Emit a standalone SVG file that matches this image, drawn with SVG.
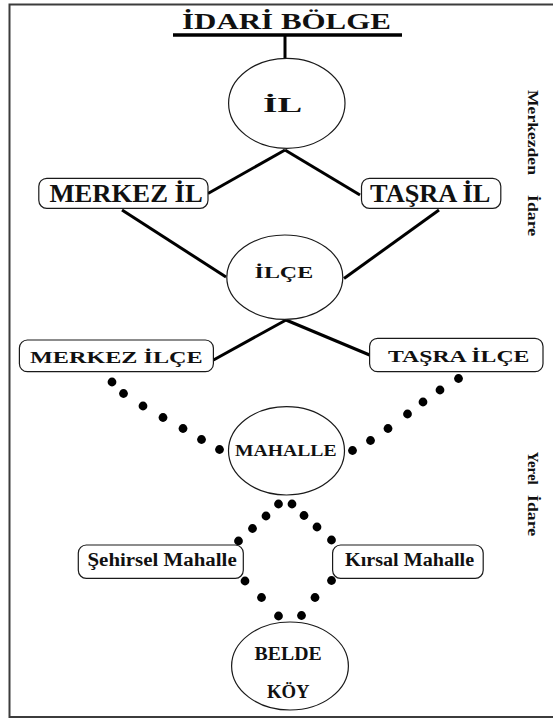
<svg xmlns="http://www.w3.org/2000/svg" width="553" height="719" viewBox="0 0 553 719">
<style>
.frame{fill:none;stroke:#3c3c3c;stroke-width:2}
.node{fill:#fff;stroke:#1a1a1a;stroke-width:1.2}
.t{font-family:"Liberation Serif","Times New Roman",serif;font-weight:bold;fill:#111}
.side{font-family:"Liberation Serif","Times New Roman",serif;font-weight:bold;fill:#111;font-size:15.5px}
.line{stroke:#000;stroke-width:3;fill:none}
.dot{fill:#000}
</style>
<rect width="553" height="719" fill="#fff"/>
<path class="frame" d="M553,4.5 H9.5 V717 H553"/>

<g id="title">
<text class="t" transform="translate(182,28.5) scale(1.346,1)" font-size="23">İDARİ BÖLGE</text>
<line x1="173" y1="35" x2="402" y2="35" stroke="#000" stroke-width="3.5"/>
</g>

<g id="connectors">
<line class="line" x1="285" y1="35" x2="285" y2="58.5"/>
<line class="line" x1="285" y1="150" x2="208" y2="193.5"/>
<line class="line" x1="285" y1="150" x2="360" y2="195"/>
<line class="line" x1="122" y1="210" x2="226" y2="277"/>
<line class="line" x1="439" y1="210" x2="344" y2="278.5"/>
<line class="line" x1="286" y1="320" x2="213.5" y2="360"/>
<line class="line" x1="286" y1="320" x2="369.6" y2="355"/>
<g class="dot">
<circle cx="112" cy="382" r="4.4"/>
<circle cx="123.5" cy="393.5" r="4.4"/>
<circle cx="143" cy="406" r="4.4"/>
<circle cx="163" cy="417.5" r="4.4"/>
<circle cx="183" cy="428.5" r="4.4"/>
<circle cx="201.5" cy="439.5" r="4.4"/>
<circle cx="219.5" cy="449.5" r="4.4"/>
<circle cx="458.5" cy="378.5" r="4.4"/>
<circle cx="440" cy="390" r="4.4"/>
<circle cx="423" cy="402" r="4.4"/>
<circle cx="407.5" cy="414" r="4.4"/>
<circle cx="388" cy="428.5" r="4.4"/>
<circle cx="370.5" cy="440.5" r="4.4"/>
<circle cx="352.5" cy="450.5" r="4.4"/>
<circle cx="278.5" cy="504" r="4.4"/>
<circle cx="292" cy="504" r="4.4"/>
<circle cx="266" cy="516" r="4.4"/>
<circle cx="252.5" cy="528.5" r="4.4"/>
<circle cx="238.5" cy="541" r="4.4"/>
<circle cx="304" cy="515.5" r="4.4"/>
<circle cx="317" cy="527" r="4.4"/>
<circle cx="331.5" cy="540" r="4.4"/>
<circle cx="245" cy="581" r="4.4"/>
<circle cx="261.5" cy="597.5" r="4.4"/>
<circle cx="278.5" cy="616" r="4.4"/>
<circle cx="301.5" cy="615.5" r="4.4"/>
<circle cx="315" cy="597.5" r="4.4"/>
<circle cx="331.5" cy="580.5" r="4.4"/>
</g>
</g>

<g id="il">
<ellipse class="node" cx="286.8" cy="103.3" rx="58.2" ry="45"/>
<text class="t" transform="translate(263,111.7) scale(1.85,1)" font-size="20">İL</text>
</g>

<g id="merkez-il">
<rect class="node" x="38.8" y="178.3" width="169.2" height="30" rx="8"/>
<text class="t" transform="translate(49.4,201.7) scale(1.067,1)" font-size="25">MERKEZ İL</text>
</g>

<g id="tasra-il">
<rect class="node" x="361.5" y="178.3" width="139.3" height="30" rx="8"/>
<text class="t" transform="translate(370,201.7) scale(1.055,1)" font-size="25">TAŞRA İL</text>
</g>

<g id="ilce">
<ellipse class="node" cx="284.8" cy="277.2" rx="58" ry="42.2"/>
<text class="t" transform="translate(254.6,278.3) scale(1.36,1)" font-size="17.6">İLÇE</text>
</g>

<g id="merkez-ilce">
<rect class="node" x="19.4" y="340" width="194" height="31.7" rx="8"/>
<text class="t" transform="translate(30,363.3) scale(1.375,1)" font-size="17.6">MERKEZ İLÇE</text>
</g>

<g id="tasra-ilce">
<rect class="node" x="369.6" y="338.3" width="173.4" height="33.4" rx="8"/>
<text class="t" transform="translate(388,362) scale(1.35,1)" font-size="17.6">TAŞRA İLÇE</text>
</g>

<g id="mahalle">
<ellipse class="node" cx="286.5" cy="450.8" rx="58" ry="44.2"/>
<text class="t" transform="translate(235,455.5) scale(1.13,1)" font-size="17.4">MAHALLE</text>
</g>

<g id="sehirsel-mahalle">
<rect class="node" x="78.3" y="545" width="165" height="33.3" rx="8"/>
<text class="t" transform="translate(87.5,566) scale(1.1,1)" font-size="19">Şehirsel Mahalle</text>
</g>

<g id="kirsal-mahalle">
<rect class="node" x="332.6" y="545" width="150.6" height="33.3" rx="8"/>
<text class="t" transform="translate(345,566) scale(1.06,1)" font-size="19">Kırsal Mahalle</text>
</g>

<g id="belde-koy">
<ellipse class="node" cx="290" cy="666" rx="58.4" ry="44"/>
<text class="t" transform="translate(254.6,660) scale(1.1,1)" font-size="18">BELDE</text>
<text class="t" transform="translate(267,698.3) scale(1.04,1)" font-size="18">KÖY</text>
</g>

<g id="side-labels">
<text class="side" transform="translate(528,90) rotate(90) scale(1.135,1)">Merkezden</text>
<text class="side" transform="translate(528,195) rotate(90) scale(1.15,1)">İdare</text>
<text class="side" transform="translate(527.5,451.7) rotate(90) scale(0.97,1)">Yerel</text>
<text class="side" transform="translate(527.5,495) rotate(90) scale(1.15,1)">İdare</text>
</g>
</svg>
